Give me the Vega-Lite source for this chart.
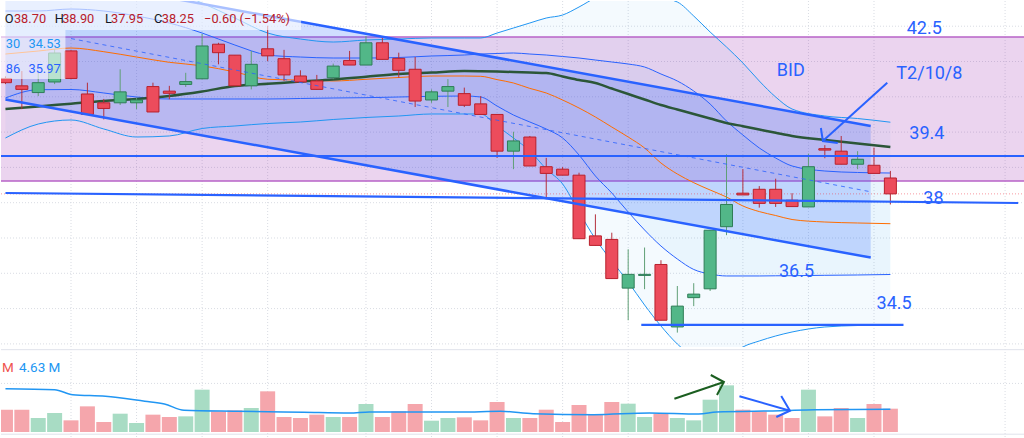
{
  "$schema": "https://vega.github.io/schema/vega-lite/v6.json",
  "background": "white",
  "padding": 0,
  "spacing": 0,
  "config": {"view": {"stroke": null}, "axis": {"disable": true}, "legend": {"disable": true}},
  "resolve": {"scale": {"x": "independent", "y": "independent", "color": "independent"}},
  "datasets": {
    "candles": [
      {"i": 0, "open": 41.52, "high": 41.58, "low": 41.36, "close": 41.40, "vol": 4.59},
      {"i": 1, "open": 41.31, "high": 41.73, "low": 40.65, "close": 41.21, "vol": 4.59},
      {"i": 2, "open": 41.12, "high": 41.68, "low": 41.02, "close": 41.40, "vol": 2.88},
      {"i": 3, "open": 41.42, "high": 42.35, "low": 41.36, "close": 42.24, "vol": 3.91},
      {"i": 4, "open": 42.30, "high": 42.32, "low": 41.50, "close": 41.52, "vol": 2.40},
      {"i": 5, "open": 41.08, "high": 41.40, "low": 40.50, "close": 40.50, "vol": 5.28},
      {"i": 6, "open": 40.83, "high": 40.94, "low": 40.36, "close": 40.67, "vol": 2.06},
      {"i": 7, "open": 40.83, "high": 41.78, "low": 40.77, "close": 41.14, "vol": 3.77},
      {"i": 8, "open": 40.83, "high": 40.97, "low": 40.65, "close": 40.91, "vol": 1.85},
      {"i": 9, "open": 41.29, "high": 41.40, "low": 40.57, "close": 40.57, "vol": 3.57},
      {"i": 10, "open": 41.16, "high": 41.31, "low": 40.93, "close": 41.10, "vol": 3.09},
      {"i": 11, "open": 41.35, "high": 41.68, "low": 41.28, "close": 41.43, "vol": 3.22},
      {"i": 12, "open": 41.51, "high": 42.78, "low": 41.50, "close": 42.44, "vol": 8.71},
      {"i": 13, "open": 42.49, "high": 42.53, "low": 41.92, "close": 42.25, "vol": 4.25},
      {"i": 14, "open": 42.18, "high": 42.18, "low": 41.31, "close": 41.31, "vol": 4.46},
      {"i": 15, "open": 41.31, "high": 42.30, "low": 41.21, "close": 41.92, "vol": 4.94},
      {"i": 16, "open": 42.36, "high": 43.01, "low": 42.01, "close": 42.16, "vol": 8.37},
      {"i": 17, "open": 42.08, "high": 42.33, "low": 41.45, "close": 41.62, "vol": 3.09},
      {"i": 18, "open": 41.59, "high": 41.75, "low": 41.42, "close": 41.42, "vol": 2.88},
      {"i": 19, "open": 41.45, "high": 41.62, "low": 41.21, "close": 41.21, "vol": 3.57},
      {"i": 20, "open": 41.54, "high": 41.94, "low": 41.50, "close": 41.87, "vol": 3.09},
      {"i": 21, "open": 42.03, "high": 42.30, "low": 41.90, "close": 41.90, "vol": 3.09},
      {"i": 22, "open": 41.90, "high": 42.72, "low": 41.90, "close": 42.53, "vol": 5.76},
      {"i": 23, "open": 42.53, "high": 42.69, "low": 42.06, "close": 42.06, "vol": 3.09},
      {"i": 24, "open": 42.09, "high": 42.25, "low": 41.54, "close": 41.75, "vol": 4.25},
      {"i": 25, "open": 41.78, "high": 42.13, "low": 40.71, "close": 40.88, "vol": 5.76},
      {"i": 26, "open": 40.91, "high": 41.21, "low": 40.83, "close": 41.14, "vol": 2.33},
      {"i": 27, "open": 41.16, "high": 41.50, "low": 40.71, "close": 41.29, "vol": 2.88},
      {"i": 28, "open": 41.09, "high": 41.26, "low": 40.71, "close": 40.76, "vol": 3.02},
      {"i": 29, "open": 40.80, "high": 41.02, "low": 40.50, "close": 40.50, "vol": 2.40},
      {"i": 30, "open": 40.50, "high": 40.50, "low": 39.27, "close": 39.46, "vol": 6.17},
      {"i": 31, "open": 39.46, "high": 40.01, "low": 38.95, "close": 39.75, "vol": 2.88},
      {"i": 32, "open": 39.86, "high": 39.89, "low": 39.04, "close": 39.04, "vol": 2.88},
      {"i": 33, "open": 39.02, "high": 39.27, "low": 38.10, "close": 38.83, "vol": 4.59},
      {"i": 34, "open": 38.95, "high": 39.01, "low": 38.78, "close": 38.78, "vol": 2.06},
      {"i": 35, "open": 38.78, "high": 38.85, "low": 36.98, "close": 36.98, "vol": 5.56},
      {"i": 36, "open": 37.06, "high": 37.67, "low": 36.79, "close": 36.79, "vol": 3.57},
      {"i": 37, "open": 36.96, "high": 37.15, "low": 35.85, "close": 35.85, "vol": 6.17},
      {"i": 38, "open": 35.58, "high": 36.68, "low": 34.67, "close": 35.97, "vol": 5.83},
      {"i": 39, "open": 35.94, "high": 36.73, "low": 35.55, "close": 35.97, "vol": 3.09},
      {"i": 40, "open": 36.25, "high": 36.37, "low": 34.67, "close": 34.67, "vol": 3.70},
      {"i": 41, "open": 34.48, "high": 35.64, "low": 34.32, "close": 35.07, "vol": 2.88},
      {"i": 42, "open": 35.31, "high": 35.72, "low": 35.07, "close": 35.41, "vol": 2.40},
      {"i": 43, "open": 35.56, "high": 37.22, "low": 35.50, "close": 37.22, "vol": 6.65},
      {"i": 44, "open": 37.32, "high": 39.37, "low": 37.08, "close": 37.95, "vol": 9.60},
      {"i": 45, "open": 38.27, "high": 38.95, "low": 38.22, "close": 38.22, "vol": 4.59},
      {"i": 46, "open": 38.38, "high": 38.47, "low": 37.86, "close": 37.98, "vol": 4.25},
      {"i": 47, "open": 38.38, "high": 38.68, "low": 37.88, "close": 37.98, "vol": 3.57},
      {"i": 48, "open": 38.07, "high": 38.27, "low": 37.89, "close": 37.89, "vol": 2.88},
      {"i": 49, "open": 37.88, "high": 39.39, "low": 37.88, "close": 39.02, "vol": 8.71},
      {"i": 50, "open": 39.53, "high": 39.63, "low": 39.26, "close": 39.49, "vol": 3.22},
      {"i": 51, "open": 39.46, "high": 39.89, "low": 39.09, "close": 39.09, "vol": 4.94},
      {"i": 52, "open": 39.09, "high": 39.46, "low": 38.95, "close": 39.23, "vol": 2.88},
      {"i": 53, "open": 39.06, "high": 39.56, "low": 38.83, "close": 38.83, "vol": 5.76},
      {"i": 54, "open": 38.70, "high": 38.90, "low": 37.95, "close": 38.25, "vol": 4.80}
    ],
    "bands": [
      {"i": 0, "basis": 42.212, "ma": 40.654, "mu": 43.431, "ml": 40.966, "lu": 44.592, "ll": 39.833},
      {"i": 2, "basis": 42.297, "ma": 40.728, "mu": 43.431, "ml": 41.201, "lu": 44.366, "ll": 40.229},
      {"i": 4, "basis": 42.382, "ma": 40.805, "mu": 43.487, "ml": 41.207, "lu": 44.422, "ll": 40.343},
      {"i": 6, "basis": 42.278, "ma": 40.881, "mu": 43.431, "ml": 41.108, "lu": 44.479, "ll": 40.088},
      {"i": 8, "basis": 42.127, "ma": 40.938, "mu": 43.289, "ml": 40.994, "lu": 44.394, "ll": 39.861},
      {"i": 10, "basis": 41.977, "ma": 41.023, "mu": 43.091, "ml": 40.938, "lu": 44.054, "ll": 39.890},
      {"i": 12, "basis": 41.878, "ma": 41.150, "mu": 42.807, "ml": 40.938, "lu": 43.657, "ll": 40.102},
      {"i": 14, "basis": 41.703, "ma": 41.306, "mu": 42.467, "ml": 40.938, "lu": 43.232, "ll": 40.173},
      {"i": 16, "basis": 41.496, "ma": 41.368, "mu": 42.184, "ml": 40.938, "lu": 42.807, "ll": 40.244},
      {"i": 18, "basis": 41.473, "ma": 41.431, "mu": 42.127, "ml": 40.952, "lu": 42.637, "ll": 40.286},
      {"i": 20, "basis": 41.448, "ma": 41.490, "mu": 42.099, "ml": 40.966, "lu": 42.552, "ll": 40.357},
      {"i": 22, "basis": 41.496, "ma": 41.569, "mu": 42.099, "ml": 40.975, "lu": 42.609, "ll": 40.414},
      {"i": 24, "basis": 41.547, "ma": 41.646, "mu": 42.113, "ml": 40.994, "lu": 42.637, "ll": 40.456},
      {"i": 26, "basis": 41.589, "ma": 41.688, "mu": 42.156, "ml": 41.014, "lu": 42.666, "ll": 40.513},
      {"i": 28, "basis": 41.589, "ma": 41.731, "mu": 42.184, "ml": 41.023, "lu": 42.666, "ll": 40.513},
      {"i": 29, "basis": 41.581, "ma": 41.725, "mu": 42.212, "ml": 40.994, "lu": 42.666, "ll": 40.513},
      {"i": 30, "basis": 41.487, "ma": 41.714, "mu": 42.227, "ml": 40.739, "lu": 42.807, "ll": 40.173},
      {"i": 31, "basis": 41.391, "ma": 41.703, "mu": 42.241, "ml": 40.484, "lu": 42.949, "ll": 39.833},
      {"i": 32, "basis": 41.238, "ma": 41.686, "mu": 42.212, "ml": 40.286, "lu": 43.091, "ll": 39.465},
      {"i": 33, "basis": 41.108, "ma": 41.674, "mu": 42.184, "ml": 40.088, "lu": 43.232, "ll": 38.955},
      {"i": 34, "basis": 40.909, "ma": 41.575, "mu": 42.142, "ml": 39.833, "lu": 43.317, "ll": 38.530},
      {"i": 35, "basis": 40.683, "ma": 41.476, "mu": 42.099, "ml": 39.351, "lu": 43.544, "ll": 37.737},
      {"i": 36, "basis": 40.428, "ma": 41.391, "mu": 42.042, "ml": 38.756, "lu": 43.799, "ll": 36.972},
      {"i": 37, "basis": 40.144, "ma": 41.235, "mu": 41.986, "ml": 38.275, "lu": 43.941, "ll": 36.349},
      {"i": 38, "basis": 39.861, "ma": 41.079, "mu": 41.929, "ml": 37.737, "lu": 43.969, "ll": 35.754},
      {"i": 39, "basis": 39.550, "ma": 40.924, "mu": 41.844, "ml": 37.227, "lu": 43.912, "ll": 35.102},
      {"i": 40, "basis": 39.125, "ma": 40.768, "mu": 41.646, "ml": 36.773, "lu": 43.799, "ll": 34.507},
      {"i": 41, "basis": 38.813, "ma": 40.640, "mu": 41.448, "ml": 36.405, "lu": 43.686, "ll": 33.997},
      {"i": 42, "basis": 38.567, "ma": 40.513, "mu": 41.164, "ml": 36.108, "lu": 43.289, "ll": 33.629},
      {"i": 43, "basis": 38.360, "ma": 40.385, "mu": 40.796, "ml": 35.980, "lu": 42.836, "ll": 33.459},
      {"i": 44, "basis": 38.161, "ma": 40.258, "mu": 40.314, "ml": 35.924, "lu": 42.411, "ll": 33.572},
      {"i": 45, "basis": 37.907, "ma": 40.167, "mu": 39.918, "ml": 35.924, "lu": 41.958, "ll": 33.912},
      {"i": 46, "basis": 37.748, "ma": 40.074, "mu": 39.550, "ml": 35.924, "lu": 41.448, "ll": 34.082},
      {"i": 47, "basis": 37.637, "ma": 39.981, "mu": 39.266, "ml": 35.929, "lu": 40.994, "ll": 34.224},
      {"i": 48, "basis": 37.524, "ma": 39.890, "mu": 39.040, "ml": 35.932, "lu": 40.654, "ll": 34.337},
      {"i": 50, "basis": 37.453, "ma": 39.776, "mu": 38.898, "ml": 35.943, "lu": 40.456, "ll": 34.479},
      {"i": 52, "basis": 37.425, "ma": 39.677, "mu": 38.856, "ml": 35.952, "lu": 40.385, "ll": 34.521},
      {"i": 54, "basis": 37.405, "ma": 39.578, "mu": 38.841, "ml": 35.966, "lu": 40.280, "ll": 34.535}
    ],
    "channel": [
      {"i": 0, "up": 44.652, "lo": 40.926},
      {"i": 52.8, "up": 40.171, "lo": 36.446}
    ],
    "mid": [
      {"i": 4, "p": 42.650},
      {"i": 52.8, "p": 38.309}
    ],
    "zone": [
      {"x1": -1, "x2": 63, "p1": 38.615, "p2": 42.694}
    ],
    "levels": [
      {"name": "l394", "i": -1, "p": 39.323},
      {"name": "l394", "i": 63, "p": 39.323},
      {"name": "l38", "i": 0, "p": 38.275},
      {"name": "l38", "i": 61.8, "p": 37.992},
      {"name": "l345", "i": 38.8, "p": 34.54},
      {"name": "l345", "i": 54.8, "p": 34.54}
    ],
    "last": [{"p": 38.25}],
    "gx": [{"i": 4}, {"i": 8}, {"i": 12}, {"i": 16}, {"i": 22}, {"i": 26}, {"i": 30}, {"i": 34}, {"i": 38}, {"i": 45}, {"i": 49}, {"i": 53}, {"i": 61}],
    "gy": [{"p": 34}, {"p": 35}, {"p": 36}, {"p": 37}, {"p": 38}, {"p": 39}, {"p": 40}, {"p": 41}, {"p": 42}, {"p": 43}],
    "legendbg": [
      {"x1": -1, "x2": 18.04, "p1": 42.892, "p2": 44.5},
      {"x1": -1, "x2": 3.66, "p1": 41.504, "p2": 42.892}
    ],
    "legend": [
      {"i": -0.045, "p": 43.099, "t": "O", "k": "lab"},
      {"i": 0.517, "p": 43.099, "t": "38.70", "k": "val"},
      {"i": 3.01, "p": 43.099, "t": "H", "k": "lab"},
      {"i": 3.46, "p": 43.099, "t": "38.90", "k": "val"},
      {"i": 6.08, "p": 43.099, "t": "L", "k": "lab"},
      {"i": 6.44, "p": 43.099, "t": "37.95", "k": "val"},
      {"i": 9.06, "p": 43.099, "t": "C", "k": "lab"},
      {"i": 9.54, "p": 43.099, "t": "38.25", "k": "val"},
      {"i": 12.12, "p": 43.099, "t": "−0.60 (−1.54%)", "k": "val"},
      {"i": 0.021, "p": 42.391, "t": "30", "k": "bbl"},
      {"i": 1.405, "p": 42.391, "t": "34.53", "k": "bbl"},
      {"i": 0.021, "p": 41.683, "t": "86", "k": "bbm"},
      {"i": 1.405, "p": 41.683, "t": "35.97", "k": "bbm"}
    ],
    "notes": [
      {"i": 56.07, "p": 42.779, "t": "42.5"},
      {"i": 47.92, "p": 41.589, "t": "BID"},
      {"i": 56.38, "p": 41.504, "t": "T2/10/8"},
      {"i": 56.23, "p": 39.805, "t": "39.4"},
      {"i": 56.63, "p": 37.963, "t": "38"},
      {"i": 48.27, "p": 35.895, "t": "36.5"},
      {"i": 54.23, "p": 34.980, "t": "34.5"}
    ],
    "parrow": [
      {"g": "m", "k": 0, "i": 53.81, "p": 41.399},
      {"g": "m", "k": 1, "i": 49.88, "p": 39.748},
      {"g": "h", "k": 0, "i": 49.76, "p": 40.116},
      {"g": "h", "k": 1, "i": 49.88, "p": 39.748},
      {"g": "h", "k": 2, "i": 50.79, "p": 39.691}
    ],
    "volma": [
      {"i": 0, "v": 8.91}, {"i": 3, "v": 8.70}, {"i": 4.1, "v": 7.67}, {"i": 6.1, "v": 7.35},
      {"i": 8.5, "v": 6.32}, {"i": 9.7, "v": 5.76}, {"i": 10.9, "v": 4.47}, {"i": 14.1, "v": 4.26},
      {"i": 18.2, "v": 4.05}, {"i": 21, "v": 3.91}, {"i": 22.2, "v": 4.12}, {"i": 27.8, "v": 4.12},
      {"i": 30.2, "v": 4.26}, {"i": 32.2, "v": 3.77}, {"i": 35.9, "v": 3.56}, {"i": 39.3, "v": 3.91},
      {"i": 42.3, "v": 3.70}, {"i": 43.4, "v": 4.12}, {"i": 47.3, "v": 4.38}, {"i": 49.4, "v": 4.59},
      {"i": 54, "v": 4.70}
    ],
    "varrow": [
      {"g": "gm", "c": "g", "k": 0, "i": 40.82, "v": 6.85},
      {"g": "gm", "c": "g", "k": 1, "i": 43.84, "v": 10.29},
      {"g": "gh", "c": "g", "k": 0, "i": 43.04, "v": 11.73},
      {"g": "gh", "c": "g", "k": 1, "i": 43.84, "v": 10.29},
      {"g": "gh", "c": "g", "k": 2, "i": 43.42, "v": 7.61},
      {"g": "bm", "c": "b", "k": 0, "i": 44.79, "v": 7.35},
      {"g": "bm", "c": "b", "k": 1, "i": 47.87, "v": 4.38},
      {"g": "bh", "c": "b", "k": 0, "i": 47.34, "v": 7.41},
      {"g": "bh", "c": "b", "k": 1, "i": 47.87, "v": 4.38},
      {"g": "bh", "c": "b", "k": 2, "i": 47.04, "v": 3.09}
    ],
    "vgrid": [{"v": 10, "s": "grid"}],
    "vsep": [{"v": 16.94}, {"v": -0.45}],
    "vlegend": [
      {"i": -0.21, "v": 12.28, "t": "M", "k": "down"},
      {"i": 0.82, "v": 12.28, "t": "4.63 M", "k": "ma"}
    ]
  },
  "vconcat": [
    {
      "width": 1024,
      "height": 346,
      "layer": [
        {
          "data": {"name": "gy"},
          "mark": {"type": "rule", "stroke": "#d9dce3", "strokeWidth": 1, "strokeDash": [1, 2]},
          "encoding": {"y": {"field": "p", "type": "quantitative", "scale": {"domain": [33.912, 43.714], "nice": false, "zero": false}}}
        },
        {
          "data": {"name": "gx"},
          "mark": {"type": "rule", "stroke": "#d9dce3", "strokeWidth": 1, "strokeDash": [1, 2]},
          "encoding": {"x": {"field": "i", "type": "quantitative", "scale": {"domain": [0.033, 61.91], "nice": false, "zero": false}}}
        },
        {
          "data": {"name": "bands"},
          "mark": {"type": "area", "fill": "#2196f3", "fillOpacity": 0.05, "clip": true},
          "encoding": {
            "x": {"field": "i", "type": "quantitative"},
            "y": {"field": "lu", "type": "quantitative"},
            "y2": {"field": "ll"}
          }
        },
        {
          "data": {"name": "bands"},
          "mark": {"type": "area", "fill": "#2196f3", "fillOpacity": 0.05, "clip": true},
          "encoding": {
            "x": {"field": "i", "type": "quantitative"},
            "y": {"field": "mu", "type": "quantitative"},
            "y2": {"field": "ml"}
          }
        },
        {
          "data": {"name": "zone"},
          "mark": {"type": "rect", "fill": "#9c27b0", "fillOpacity": 0.2, "stroke": "#b863c8", "strokeWidth": 1.5, "clip": true},
          "encoding": {
            "x": {"field": "x1", "type": "quantitative"},
            "x2": {"field": "x2"},
            "y": {"field": "p1", "type": "quantitative"},
            "y2": {"field": "p2"}
          }
        },
        {
          "data": {"name": "channel"},
          "mark": {"type": "area", "fill": "#2962ff", "fillOpacity": 0.22, "clip": true},
          "encoding": {
            "x": {"field": "i", "type": "quantitative"},
            "y": {"field": "up", "type": "quantitative"},
            "y2": {"field": "lo"}
          }
        },
        {
          "data": {"name": "last"},
          "mark": {"type": "rule", "stroke": "#f23645", "strokeOpacity": 0.5, "strokeWidth": 1, "strokeDash": [1, 2]},
          "encoding": {"y": {"field": "p", "type": "quantitative"}}
        },
        {
          "data": {"name": "bands"},
          "mark": {"type": "line", "stroke": "#2196f3", "strokeWidth": 1, "clip": true, "interpolate": "monotone"},
          "encoding": {"x": {"field": "i", "type": "quantitative"}, "y": {"field": "lu", "type": "quantitative"}}
        },
        {
          "data": {"name": "bands"},
          "mark": {"type": "line", "stroke": "#2196f3", "strokeWidth": 1, "clip": true, "interpolate": "monotone"},
          "encoding": {"x": {"field": "i", "type": "quantitative"}, "y": {"field": "ll", "type": "quantitative"}}
        },
        {
          "data": {"name": "bands"},
          "mark": {"type": "line", "stroke": "#2962ff", "strokeWidth": 1, "clip": true, "interpolate": "monotone"},
          "encoding": {"x": {"field": "i", "type": "quantitative"}, "y": {"field": "mu", "type": "quantitative"}}
        },
        {
          "data": {"name": "bands"},
          "mark": {"type": "line", "stroke": "#2962ff", "strokeWidth": 1, "clip": true, "interpolate": "monotone"},
          "encoding": {"x": {"field": "i", "type": "quantitative"}, "y": {"field": "ml", "type": "quantitative"}}
        },
        {
          "data": {"name": "bands"},
          "mark": {"type": "line", "stroke": "#ff6d00", "strokeWidth": 1, "clip": true, "interpolate": "monotone"},
          "encoding": {"x": {"field": "i", "type": "quantitative"}, "y": {"field": "basis", "type": "quantitative"}}
        },
        {
          "data": {"name": "bands"},
          "mark": {"type": "line", "stroke": "#2b5638", "strokeWidth": 2.5, "clip": true, "interpolate": "monotone"},
          "encoding": {"x": {"field": "i", "type": "quantitative"}, "y": {"field": "ma", "type": "quantitative"}}
        },
        {
          "data": {"name": "candles"},
          "mark": {"type": "rule", "strokeWidth": 1, "clip": true},
          "encoding": {
            "x": {"field": "i", "type": "quantitative"},
            "y": {"field": "low", "type": "quantitative"},
            "y2": {"field": "high"},
            "stroke": {"condition": {"test": "datum.close >= datum.open", "value": "#5f9f76"}, "value": "#b5303c"}
          }
        },
        {
          "data": {"name": "candles"},
          "mark": {"type": "bar", "size": 12, "orient": "vertical", "strokeWidth": 1, "clip": true},
          "encoding": {
            "x": {"field": "i", "type": "quantitative"},
            "y": {"field": "open", "type": "quantitative"},
            "y2": {"field": "close"},
            "fill": {"condition": {"test": "datum.close >= datum.open", "value": "#52b788"}, "value": "#ec4c5c"},
            "stroke": {"condition": {"test": "datum.close >= datum.open", "value": "#2e7d57"}, "value": "#b8202c"}
          }
        },
        {
          "data": {"name": "channel"},
          "mark": {"type": "line", "stroke": "#2962ff", "strokeWidth": 2.5, "clip": true},
          "encoding": {"x": {"field": "i", "type": "quantitative"}, "y": {"field": "up", "type": "quantitative"}}
        },
        {
          "data": {"name": "channel"},
          "mark": {"type": "line", "stroke": "#2962ff", "strokeWidth": 2.5, "clip": true},
          "encoding": {"x": {"field": "i", "type": "quantitative"}, "y": {"field": "lo", "type": "quantitative"}}
        },
        {
          "data": {"name": "mid"},
          "mark": {"type": "line", "stroke": "#2962ff", "strokeWidth": 1, "strokeDash": [4, 4], "strokeOpacity": 0.8, "clip": true},
          "encoding": {"x": {"field": "i", "type": "quantitative"}, "y": {"field": "p", "type": "quantitative"}}
        },
        {
          "data": {"name": "levels"},
          "mark": {"type": "line", "stroke": "#2962ff", "strokeWidth": 2.2, "clip": true},
          "encoding": {
            "x": {"field": "i", "type": "quantitative"},
            "y": {"field": "p", "type": "quantitative"},
            "detail": {"field": "name", "type": "nominal"}
          }
        },
        {
          "data": {"name": "parrow"},
          "mark": {"type": "line", "stroke": "#2962ff", "strokeWidth": 2, "clip": true},
          "encoding": {
            "x": {"field": "i", "type": "quantitative"},
            "y": {"field": "p", "type": "quantitative"},
            "detail": {"field": "g", "type": "nominal"},
            "order": {"field": "k", "type": "quantitative"}
          }
        },
        {
          "data": {"name": "legendbg"},
          "mark": {"type": "rect", "fill": "white", "fillOpacity": 0.6, "clip": true},
          "encoding": {
            "x": {"field": "x1", "type": "quantitative"},
            "x2": {"field": "x2"},
            "y": {"field": "p1", "type": "quantitative"},
            "y2": {"field": "p2"}
          }
        },
        {
          "data": {"name": "legend"},
          "mark": {"type": "text", "align": "left", "baseline": "alphabetic", "font": "Roboto", "fontSize": 12.8, "clip": true},
          "encoding": {
            "x": {"field": "i", "type": "quantitative"},
            "y": {"field": "p", "type": "quantitative"},
            "text": {"field": "t"},
            "color": {"field": "k", "type": "nominal", "scale": {"domain": ["lab", "val", "bbl", "bbm"], "range": ["#131722", "#b8202c", "#2196f3", "#2962ff"]}, "legend": null}
          }
        },
        {
          "data": {"name": "notes"},
          "mark": {"type": "text", "align": "center", "baseline": "alphabetic", "font": "Roboto", "fontSize": 18, "fill": "#2962ff"},
          "encoding": {
            "x": {"field": "i", "type": "quantitative"},
            "y": {"field": "p", "type": "quantitative"},
            "text": {"field": "t"}
          }
        }
      ]
    },
    {
      "width": 1024,
      "height": 92,
      "layer": [
        {
          "data": {"name": "gx"},
          "mark": {"type": "rule", "stroke": "#d9dce3", "strokeWidth": 1, "strokeDash": [1, 2]},
          "encoding": {"x": {"field": "i", "type": "quantitative", "scale": {"domain": [0.033, 61.91], "nice": false, "zero": false}}}
        },
        {
          "data": {"name": "vgrid"},
          "mark": {"type": "rule", "stroke": "#d9dce3", "strokeWidth": 1, "strokeDash": [1, 2]},
          "encoding": {"y": {"field": "v", "type": "quantitative", "scale": {"domain": [-1.85, 17.08], "nice": false, "zero": false}}}
        },
        {
          "data": {"name": "vsep"},
          "mark": {"type": "rule", "stroke": "#e0e3eb", "strokeWidth": 1},
          "encoding": {"y": {"field": "v", "type": "quantitative"}}
        },
        {
          "data": {"name": "candles"},
          "mark": {"type": "bar", "size": 15, "orient": "vertical", "clip": true},
          "encoding": {
            "x": {"field": "i", "type": "quantitative"},
            "y": {"field": "vol", "type": "quantitative"},
            "y2": {"datum": 0},
            "fill": {"condition": {"test": "datum.close >= datum.open", "value": "#a8dcc4"}, "value": "#f5a6ac"}
          }
        },
        {
          "data": {"name": "volma"},
          "mark": {"type": "line", "stroke": "#2196f3", "strokeWidth": 1.5, "interpolate": "monotone", "clip": true},
          "encoding": {"x": {"field": "i", "type": "quantitative"}, "y": {"field": "v", "type": "quantitative"}}
        },
        {
          "data": {"name": "varrow"},
          "mark": {"type": "line", "strokeWidth": 2},
          "encoding": {
            "x": {"field": "i", "type": "quantitative"},
            "y": {"field": "v", "type": "quantitative"},
            "detail": {"field": "g", "type": "nominal"},
            "order": {"field": "k", "type": "quantitative"},
            "color": {"field": "c", "type": "nominal", "scale": {"domain": ["g", "b", "down", "ma"], "range": ["#1b5e20", "#2962ff", "#ef5350", "#2196f3"]}, "legend": null}
          }
        },
        {
          "data": {"name": "vlegend"},
          "mark": {"type": "text", "align": "left", "baseline": "alphabetic", "font": "Roboto", "fontSize": 13.5, "clip": true},
          "encoding": {
            "x": {"field": "i", "type": "quantitative"},
            "y": {"field": "v", "type": "quantitative"},
            "text": {"field": "t"},
            "color": {"field": "k", "type": "nominal", "scale": {"domain": ["g", "b", "down", "ma"], "range": ["#1b5e20", "#2962ff", "#ef5350", "#2196f3"]}, "legend": null}
          }
        }
      ]
    }
  ]
}
